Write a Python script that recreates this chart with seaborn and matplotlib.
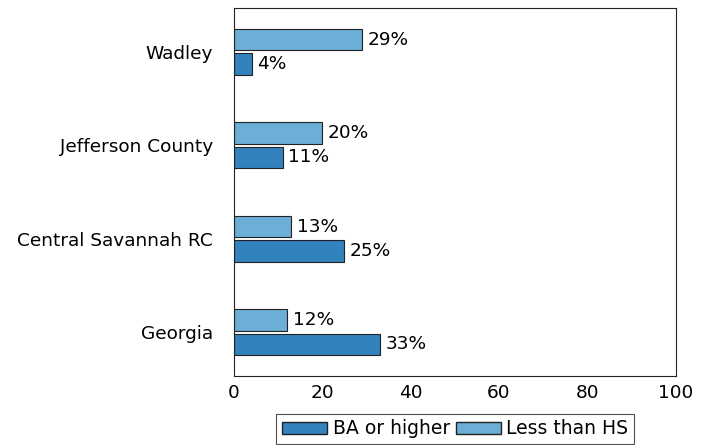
import pandas as pd
import seaborn as sns
import matplotlib.pyplot as plt
from matplotlib.patches import Patch

# data
places = ["Wadley", "Jefferson County", "Central Savannah RC", "Georgia"]
less_than_hs = [29, 20, 13, 12]
ba_or_higher = [4, 11, 25, 33]

df = pd.DataFrame({
    "Place": places * 2,
    "Group": ["Less than HS"] * 4 + ["BA or higher"] * 4,
    "Value": less_than_hs + ba_or_higher,
})

colors = {"Less than HS": "#6baed6", "BA or higher": "#3182bd"}

sns.set_style("white")
plt.rcParams["font.family"] = ["DejaVu Sans"]
plt.rcParams["text.color"] = "black"
plt.rcParams["xtick.color"] = "black"
plt.rcParams["ytick.color"] = "black"

fig = plt.figure(figsize=(7.09, 4.45), dpi=100)
ax = fig.add_axes([0.330, 0.155, 0.623, 0.827])

sns.barplot(data=df, y="Place", x="Value", hue="Group", order=places,
            hue_order=["Less than HS", "BA or higher"], palette=colors,
            orient="h", width=0.52, gap=0.12, edgecolor="#222222",
            linewidth=0.8, saturation=1, ax=ax, legend=False)

# value labels
for cont in ax.containers:
    ax.bar_label(cont, labels=[f"{v:.0f}%" for v in cont.datavalues],
                 padding=4, fontsize=13.3)

ax.set_xlim(0, 100)
ax.set_ylim(3.47, -0.47)
ax.set_xticks([0, 20, 40, 60, 80, 100])
ax.set_xlabel("")
ax.set_ylabel("")
ax.tick_params(axis="both", length=0, labelsize=13.3)
ax.tick_params(axis="y", pad=15)
ax.tick_params(axis="x", pad=6)
for s in ax.spines.values():
    s.set_color("#222222")
    s.set_linewidth(0.8)

handles = [Patch(facecolor=colors["BA or higher"], edgecolor="#222222", label="BA or higher"),
           Patch(facecolor=colors["Less than HS"], edgecolor="#222222", label="Less than HS")]
leg = fig.legend(handles=handles, loc="center", bbox_to_anchor=(0.642, 0.036), ncol=2,
                 frameon=True, fancybox=False, fontsize=13.5, handlelength=2.4,
                 handleheight=0.6, handletextpad=0.3, columnspacing=0.3,
                 borderpad=0.3, borderaxespad=0)
leg.get_frame().set_edgecolor("#222222")
leg.get_frame().set_linewidth(0.8)

fig.savefig("out.png", dpi=100)
